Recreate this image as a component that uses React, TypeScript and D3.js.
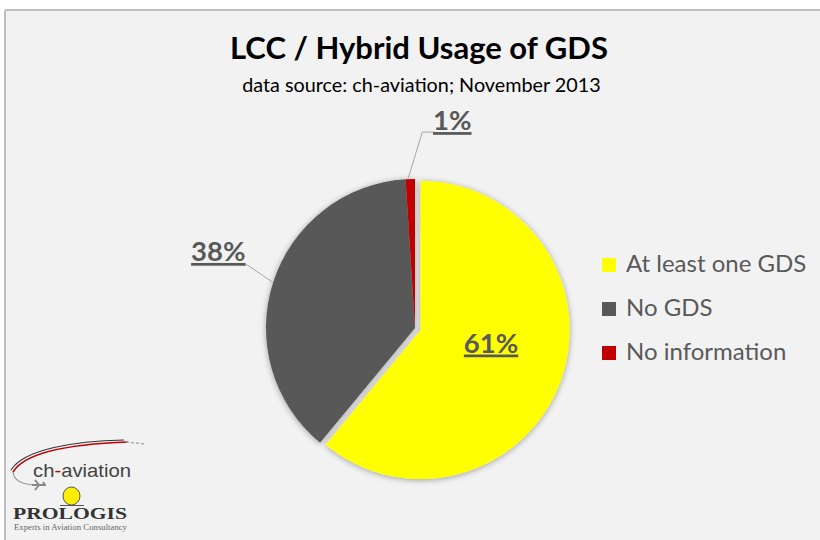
import React from "react";
import * as d3 from "d3";

const categories = ["At least one GDS", "No GDS", "No information"];
const values = [61, 38, 1];
const labels = ["61%", "38%", "1%"];
const colors = ["#FFFF00", "#595959", "#C00000"];
const title = "LCC / Hybrid Usage of GDS";
const subtitle = "data source: ch-aviation; November 2013";

const W = 820;
const H = 540;

export default function App() {
  const cx = 415;
  const cy = 328;
  const r = 149;
  const pie = d3.pie<number>().sort(null).value((d) => d);
  const arcs = pie(values);
  const arcGen = d3.arc<d3.PieArcDatum<number>>().innerRadius(0).outerRadius(r);
  const explode = 6;
  const labelFont = "Lato, 'Open Sans', sans-serif";

  const offsets = arcs.map((a, i) => {
    if (i !== 0) return [0, 0];
    const mid = (a.startAngle + a.endAngle) / 2;
    return [Math.sin(mid) * explode, -Math.cos(mid) * explode];
  });

  const mid = (a: d3.PieArcDatum<number>) => (a.startAngle + a.endAngle) / 2;
  const edgePt = (a: d3.PieArcDatum<number>, rr: number) => {
    const m = mid(a);
    return [cx + Math.sin(m) * rr, cy - Math.cos(m) * rr];
  };

  const yellow = arcs[0];
  const grey = arcs[1];
  const red = arcs[2];
  const yIn = (() => {
    const m = mid(yellow) - 0.17;
    return [cx + offsets[0][0] + Math.sin(m) * r * 0.48, cy + offsets[0][1] - Math.cos(m) * r * 0.48];
  })();
  const gEdge = edgePt(grey, r);
  const gLbl = [gEdge[0] - 55, gEdge[1] - 31];
  const rEdge = edgePt(red, r + 1);
  const rLbl = [rEdge[0] + 42, rEdge[1] - 58];

  return (
    <svg width={W} height={H} style={{ position: "absolute", left: 0, top: 0 }}>
      <defs>
        <filter id="sh" x="-20%" y="-20%" width="140%" height="140%">
          <feGaussianBlur in="SourceAlpha" stdDeviation="3" />
          <feOffset dx="0" dy="1" result="b" />
          <feComponentTransfer>
            <feFuncA type="linear" slope="0.35" />
          </feComponentTransfer>
          <feMerge>
            <feMergeNode />
            <feMergeNode in="SourceGraphic" />
          </feMerge>
        </filter>
      </defs>
      <rect x={0} y={0} width={W} height={H} fill="#ffffff" />
      <rect x={5} y={10} width={W - 5} height={H - 10} fill="#f2f2f2" />
      <line x1={5} y1={10} x2={W} y2={10} stroke="#bfbfbf" strokeWidth={2} />
      <line x1={5} y1={10} x2={5} y2={H} stroke="#bfbfbf" strokeWidth={2} />

      <text x={419} y={59} textAnchor="middle" fontFamily={labelFont} fontWeight="bold" fontSize={31} fill="#000">
        {title}
      </text>
      <text x={421.5} y={92} textAnchor="middle" fontFamily={labelFont} fontSize={19.8} fill="#000">
        {subtitle}
      </text>

      <g filter="url(#sh)">
        {arcs.map((a, i) => (
          <path
            key={i}
            d={arcGen(a) || ""}
            transform={`translate(${cx + offsets[i][0]},${cy + offsets[i][1]})`}
            fill={colors[i]}
          />
        ))}
      </g>

      <polyline
        points={`${gLbl[0] + 22},${gLbl[1] + 14} ${gLbl[0] + 29},${gLbl[1] + 14} ${gEdge[0] - 1},${gEdge[1]}`}
        fill="none"
        stroke="#a6a6a6"
        strokeWidth={1}
      />
      <polyline
        points={`${rLbl[0] - 18},${rLbl[1] + 12} ${rLbl[0] - 30},${rLbl[1] + 12} ${rEdge[0] - 2},${rEdge[1]}`}
        fill="none"
        stroke="#a6a6a6"
        strokeWidth={1}
      />

      {[yIn, gLbl, rLbl].map((p, i) => (
        <text
          key={i}
          x={p[0]}
          y={p[1] + 10}
          textAnchor="middle"
          fontFamily={labelFont}
          fontWeight="bold"
          fontSize={27.5}
          fill="#595959"
          style={{ textDecoration: "underline" }}
        >
          {labels[i]}
        </text>
      ))}

      {categories.map((c, i) => (
        <g key={c} transform={`translate(602,${258 + i * 44})`}>
          <rect x={0} y={0} width={14} height={14} fill={colors[i]} />
          <text x={24} y={14} fontFamily={labelFont} fontSize={24} fill="#595959">
            {c}
          </text>
        </g>
      ))}

      {/* logos */}
      <g>
        <path d="M13,472 C25,452 70,444 128,442" fill="none" stroke="#c00000" strokeWidth={1.6} />
        <path d="M11,470 C24,449 75,441 124,440" fill="none" stroke="#333" strokeWidth={1.1} />
        <path d="M126,442 L145,444" stroke="#aaa" strokeWidth={1.5} strokeDasharray="3,2" />
        <path d="M13,472 C14,481 22,484 34,485" fill="none" stroke="#999" strokeWidth={1.2} />
        <path d="M32,485 L46,485 M39,485 L35,480 M39,485 L35,490 M45,485 L43,482" stroke="#888" strokeWidth={2} fill="none" />
        <text x={33} y={477} fontFamily="'Liberation Sans', Arial, sans-serif" fontSize={19} fill="#444" textLength={98} lengthAdjust="spacingAndGlyphs">
          ch<tspan fill="#c00000">-</tspan>aviation
        </text>
        <ellipse cx={71.5} cy={496} rx={8.5} ry={9} fill="#ffee00" stroke="#555" strokeWidth={1} />
        <line x1={60} y1={505.5} x2={84} y2={505.5} stroke="#555" strokeWidth={1} />
        <text x={13} y={519} fontFamily="'Liberation Serif', 'DejaVu Serif', serif" fontWeight="bold" fontSize={16} fill="#333" textLength={114} lengthAdjust="spacingAndGlyphs">
          PROLOGIS
        </text>
        <text x={14} y={530} fontFamily="'Liberation Serif', serif" fontSize={7.5} fill="#666" textLength={113} lengthAdjust="spacingAndGlyphs">
          Experts in Aviation Consultancy
        </text>
      </g>
    </svg>
  );
}
